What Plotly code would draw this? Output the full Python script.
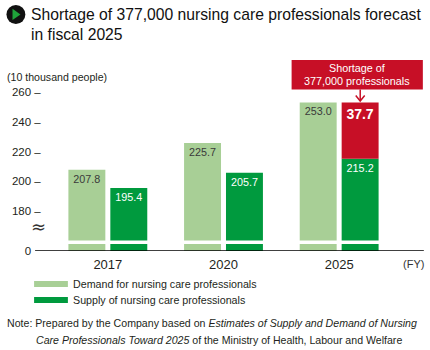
import plotly.graph_objects as go

# ---------------- data ----------------
years = ["2017", "2020", "2025"]
demand = [207.8, 225.7, 253.0]
supply = [195.4, 205.7, 215.2]
shortage_year = ["2025"]
shortage = [37.7]
y_ticks = [180, 200, 220, 240, 260]
zero_label = "0"

# ---------------- styles / layout ----------------
W, H = 430, 350
L, R, T, B = 48, 33, 92, 99
PW, PH = W - L - R, H - T - B
Y_TOP = 260
BREAK_PX = 40                      # pixels between 0 and 180 (axis break)
K = (PH - BREAK_PX) / (Y_TOP - 180)  # px per unit
Y0 = 180 - BREAK_PX / K            # virtual position of 0

LG = "#a8cf96"
DG = "#009a3e"
RED = "#c70f26"
TXT = "#231f20"
FONT = "Liberation Sans, Arial, sans-serif"


def px(x):
    return (x - L) / PW


def py(y):
    return (H - B - y) / PH


fig = go.Figure()
fig.add_trace(go.Bar(
    x=years, y=[v - Y0 for v in demand], base=Y0, offsetgroup="d",
    marker=dict(color=LG, line=dict(width=0)),
    text=[f"{v:.1f}" for v in demand], textposition="inside",
    insidetextanchor="end", textangle=0,
    textfont=dict(color="#3a3a3a", size=10.8, family=FONT),
    hoverinfo="skip"))
fig.add_trace(go.Bar(
    x=years, y=[v - Y0 for v in supply], base=Y0, offsetgroup="s",
    marker=dict(color=DG, line=dict(width=0)),
    text=[f"{v:.1f}" for v in supply], textposition="inside",
    insidetextanchor="end", textangle=0,
    textfont=dict(color="white", size=10.8, family=FONT),
    hoverinfo="skip"))
fig.add_trace(go.Bar(
    x=shortage_year, y=shortage, base=[supply[years.index(y)] for y in shortage_year],
    offsetgroup="s",
    marker=dict(color=RED, line=dict(width=0)),
    text=[f"{v:.1f}" for v in shortage], textposition="inside",
    insidetextanchor="end", textangle=0,
    textfont=dict(color="white", size=14, family="Liberation Sans, Arial", weight="bold"),
    hoverinfo="skip"))

shapes = []
# axis break white band
shapes.append(dict(type="rect", xref="paper", yref="y", x0=0, x1=1,
                   y0=Y0 + 7 / K, y1=Y0 + 10.5 / K, fillcolor="white",
                   line=dict(width=0), layer="above"))
# baseline
shapes.append(dict(type="line", xref="paper", yref="y", x0=px(33), x1=px(424),
                   y0=Y0, y1=Y0, line=dict(color="black", width=1.3), layer="above"))
# red callout box
shapes.append(dict(type="rect", xref="paper", yref="paper", x0=px(291), x1=px(423),
                   y0=py(89.5), y1=py(60), fillcolor=RED, line=dict(width=0)))
# arrow stem
shapes.append(dict(type="line", xref="paper", yref="paper", x0=px(360), x1=px(360),
                   y0=py(89.5), y1=py(101), line=dict(color=RED, width=1.5)))
shapes.append(dict(type="path", xref="paper", yref="paper",
                   path=f"M {px(355.5)},{py(95.5)} L {px(360)},{py(101)} L {px(364.5)},{py(95.5)}",
                   line=dict(color=RED, width=1.5)))
# title icon
shapes.append(dict(type="circle", xref="paper", yref="paper", x0=px(4.2), x1=px(23.2),
                   y0=py(24), y1=py(5), fillcolor="#111111", line=dict(width=0)))
shapes.append(dict(type="path", xref="paper", yref="paper",
                   path=f"M {px(10.3)},{py(8.8)} L {px(18.3)},{py(14.4)} L {px(10.3)},{py(20)} Z",
                   fillcolor="#1fa23a", line=dict(width=0)))
# legend swatches
shapes.append(dict(type="rect", xref="paper", yref="paper", x0=px(32), x1=px(66),
                   y0=py(287), y1=py(281), fillcolor=LG, line=dict(width=0)))
shapes.append(dict(type="rect", xref="paper", yref="paper", x0=px(32), x1=px(66),
                   y0=py(303), y1=py(297), fillcolor=DG, line=dict(width=0)))

ann = []


def text(x, y, s, size, color=TXT, xanchor="left", family=FONT, **kw):
    ann.append(dict(x=px(x), y=py(y), xref="paper", yref="paper", text=s,
                    showarrow=False, xanchor=xanchor, yanchor="middle",
                    font=dict(size=size, color=color, family=family), **kw))


text(27, 14, "Shortage of 377,000 nursing care professionals forecast", 15.7, "#111111")
text(27, 34, "in fiscal 2025", 15.7, "#111111")
text(3, 77, "(10 thousand people)", 10.6)
text(357, 68.5, "Shortage of", 10.8, "white", xanchor="center")
text(357, 81, "377,000 professionals", 10.8, "white", xanchor="center")
text(36, 226, "≈", 18, "#333333", xanchor="center", family="DejaVu Sans")
text(414, 264, "(FY)", 11, "#333333", xanchor="center")
text(69, 284, "Demand for nursing care professionals", 10.7)
text(69, 300, "Supply of nursing care professionals", 10.7)
text(3, 322.5, "Note: Prepared by the Company based on <i>Estimates of Supply and Demand of Nursing</i>", 10.6)
text(32, 339.5, "<i>Care Professionals Toward 2025</i> of the Ministry of Health, Labour and Welfare", 10.6)

NB = "\u00a0"
fig.update_layout(
    width=W, height=H, margin=dict(l=L, r=R, t=T, b=B, pad=0),
    paper_bgcolor="white", plot_bgcolor="white",
    barmode="group", bargap=0.275, bargroupgap=0.119,
    showlegend=False, shapes=shapes, annotations=ann,
    font=dict(family=FONT, color=TXT),
    uniformtext=dict(mode=False),
    xaxis=dict(type="category", showgrid=False, zeroline=False, showline=False,
               ticks="outside", ticklen=1, tickcolor="rgba(0,0,0,0)",
               tickfont=dict(size=13, color=TXT, family=FONT), fixedrange=True),
    yaxis=dict(range=[Y0, Y_TOP], showgrid=False, zeroline=False, showline=False,
               tickvals=[Y0] + y_ticks,
               ticktext=[zero_label + NB * 3] + [f"{t} –" for t in y_ticks],
               ticks="outside", ticklen=6, tickcolor="rgba(0,0,0,0)",
               tickfont=dict(size=11.5, color=TXT, family=FONT), fixedrange=True),
)

fig.write_html("out.html")
